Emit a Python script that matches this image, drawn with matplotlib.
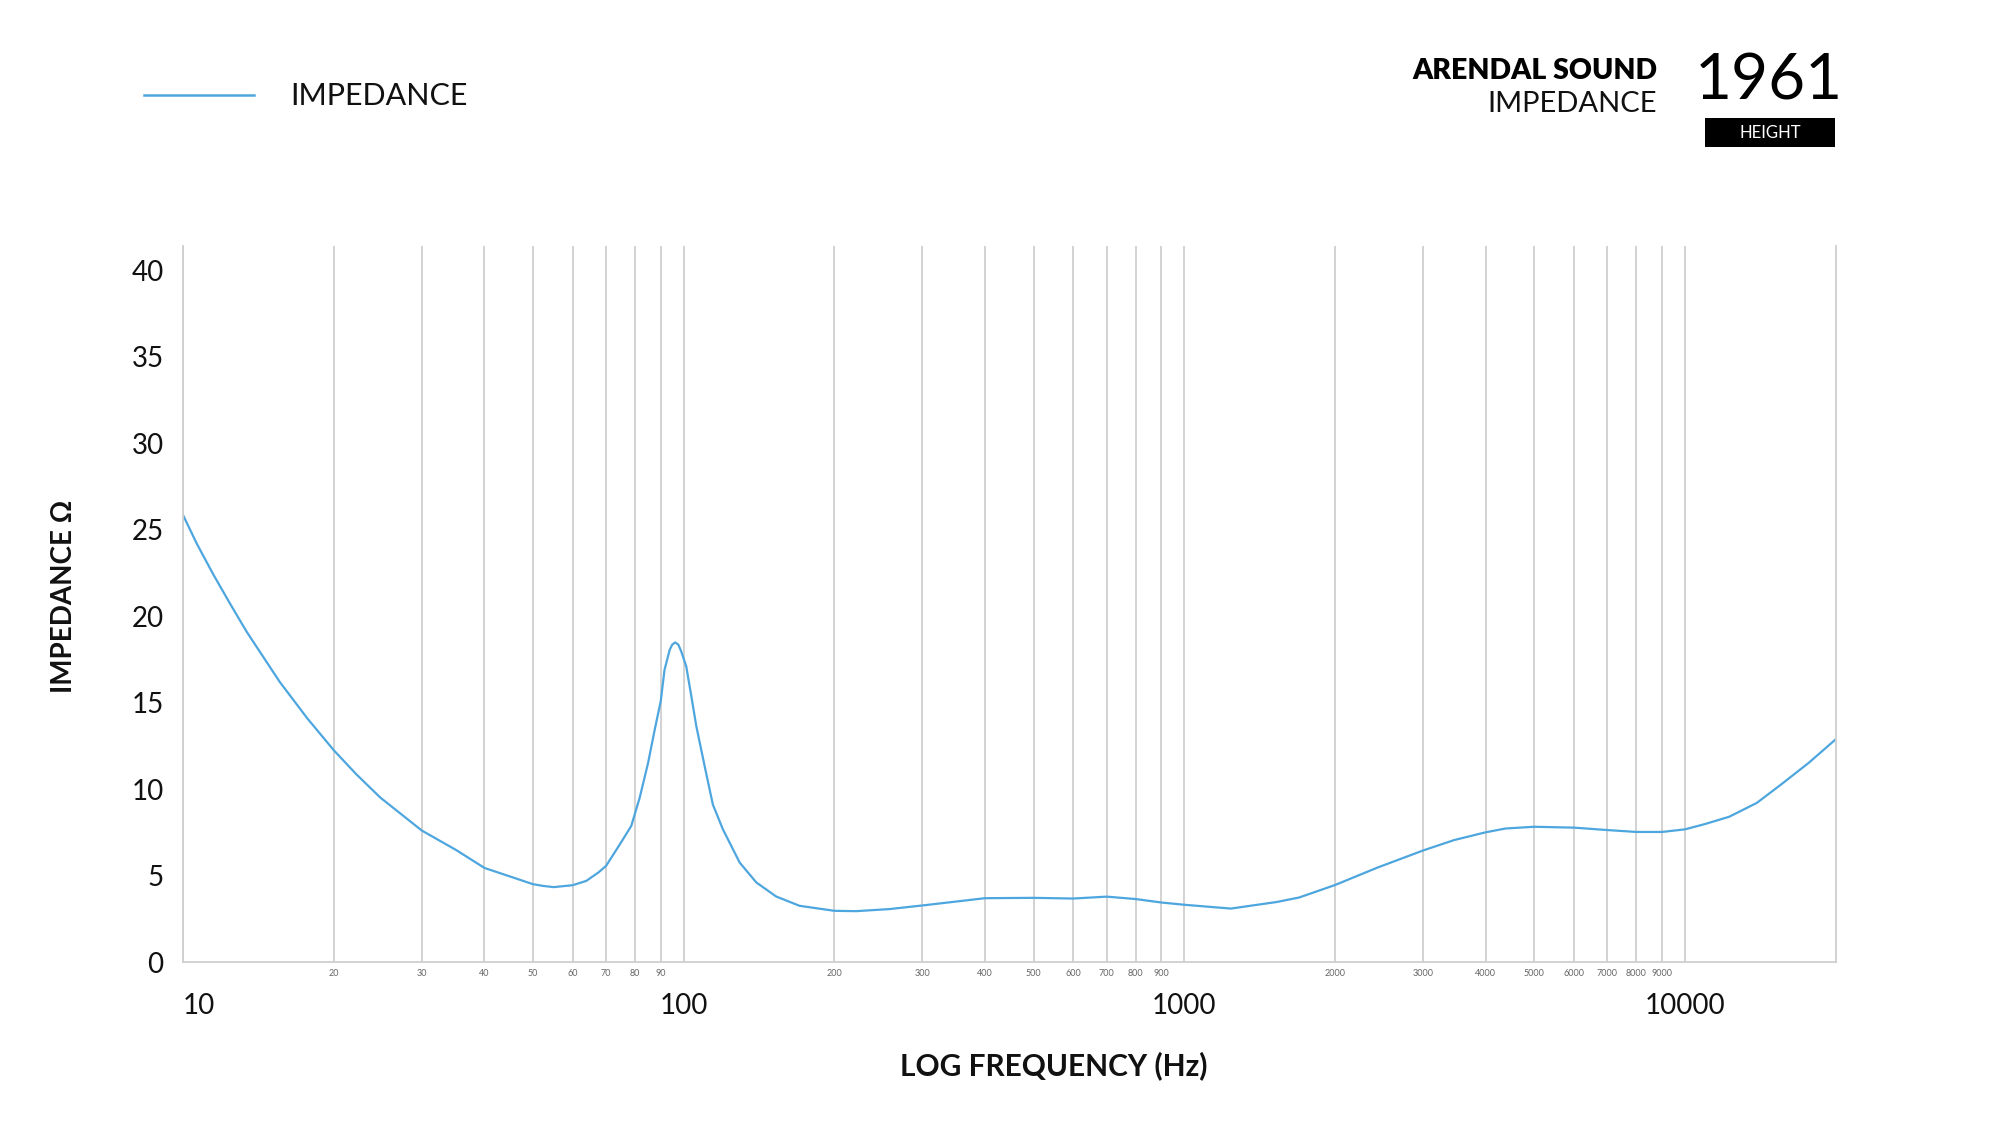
import matplotlib
matplotlib.use("Agg")
import matplotlib.pyplot as plt
from matplotlib.patches import Rectangle

# impedance curve (Hz, ohm)
freq = [10, 10.65, 11.5, 12.4, 13.4, 15.6, 17.7, 20, 22.2, 24.8, 30, 35.1, 40,
        45.6, 50, 52.4, 55, 60, 63.9, 67.6, 70, 74.6, 78.6, 81.7, 84.9, 87.5,
        90, 91.6, 93.8, 94.9, 96.2, 97.6, 98.9, 101.2, 103.6, 106, 110.2,
        114.4, 119.8, 129.4, 139.7, 153, 170.4, 200, 221, 257.6, 300, 400,
        500, 600, 700, 800, 900, 1000, 1239, 1530, 1696, 2000, 2427, 3000,
        3459, 4000, 4385, 5000, 6000, 7000, 8000, 9000, 10000, 10977, 12263,
        13921, 15543, 17645, 20000]
impedance = [25.85, 24.2, 22.4, 20.75, 19.1, 16.2, 14.1, 12.25, 10.85, 9.5,
             7.6, 6.48, 5.44, 4.89, 4.5, 4.4, 4.33, 4.44, 4.69, 5.18, 5.56,
             6.81, 7.87, 9.5, 11.5, 13.4, 15.08, 16.9, 18.06, 18.35, 18.48,
             18.35, 17.96, 17.1, 15.37, 13.64, 11.3, 9.1, 7.67, 5.75, 4.6,
             3.79, 3.25, 2.96, 2.94, 3.06, 3.27, 3.69, 3.71, 3.67, 3.78, 3.64,
             3.44, 3.31, 3.09, 3.47, 3.73, 4.45, 5.45, 6.45, 7.05, 7.5, 7.72,
             7.82, 7.77, 7.63, 7.52, 7.52, 7.67, 7.98, 8.4, 9.2, 10.25, 11.5,
             12.87]

major_freqs = [10, 100, 1000, 10000]
minor_freqs = [20, 30, 40, 50, 60, 70, 80, 90,
               200, 300, 400, 500, 600, 700, 800, 900,
               2000, 3000, 4000, 5000, 6000, 7000, 8000, 9000]
y_ticks = [0, 5, 10, 15, 20, 25, 30, 35, 40]

LINE = "#4ea6df"
GRID = "#cfcfcf"
TEXT = "#111111"

plt.rcParams['font.family'] = ['Lato', 'DejaVu Sans']

fig = plt.figure(figsize=(20, 11.27), dpi=100)
ax = fig.add_axes([0.0915, 0.1464, 0.8263, 0.6353])

ax.plot(freq, impedance, color=LINE, lw=1.6, solid_joinstyle='round')

ax.set_xscale('log')
ax.set_xlim(10, 20000)
ax.set_ylim(0, 41.4)

ax.set_xticks(major_freqs)
ax.set_xticklabels([str(f) for f in major_freqs])
ax.set_xticks(minor_freqs, minor=True)
ax.set_xticklabels([str(f) for f in minor_freqs], minor=True)
ax.tick_params(axis='x', which='major', length=0, pad=22, labelsize=20,
               labelcolor=TEXT)
ax.tick_params(axis='x', which='minor', length=0, pad=5, labelsize=6.5,
               labelcolor='#666666')
ax.get_xticklabels()[0].set_ha('left')

ax.set_yticks(y_ticks)
ax.tick_params(axis='y', length=0, pad=14, labelsize=20, labelcolor=TEXT)

ax.grid(True, axis='x', which='both', color=GRID, lw=1.3)
ax.grid(False, axis='y')

for side in ['left', 'bottom', 'right']:
    ax.spines[side].set_color(GRID)
    ax.spines[side].set_linewidth(1.3)
ax.spines['top'].set_visible(False)

fig.text(64 / 2000, 1 - 596 / 1127, "IMPEDANCE Ω", rotation=90, fontsize=20,
         fontweight='bold', ha='center', va='center', color=TEXT)
fig.text(1054 / 2000, 1 - 1066 / 1127, "LOG FREQUENCY (Hz)", fontsize=21.5,
         fontweight='bold', ha='center', va='center', color=TEXT)

# legend
fig.lines.append(plt.Line2D([144 / 2000, 254 / 2000], [1 - 95 / 1127] * 2,
                            color=LINE, lw=1.8, transform=fig.transFigure))
fig.text(290 / 2000, 1 - 96 / 1127, "IMPEDANCE", fontsize=22,
         ha='left', va='center', color=TEXT)

# header block
fig.text(1657 / 2000, 1 - 71 / 1127, "ARENDAL SOUND", fontsize=20.5,
         fontweight='heavy', ha='right', va='center', color='black')
fig.text(1657 / 2000, 1 - 104 / 1127, "IMPEDANCE", fontsize=21,
         ha='right', va='center', color=TEXT)
fig.text(1769 / 2000, 1 - 82 / 1127, "1961", fontsize=46,
         ha='center', va='center', color='black')
fig.patches.append(Rectangle((1705 / 2000, 1 - 147 / 1127), 130 / 2000,
                             29 / 1127, transform=fig.transFigure,
                             facecolor='black', edgecolor='none'))
fig.text(1770 / 2000, 1 - 133 / 1127, "HEIGHT", fontsize=12, color='white',
         ha='center', va='center')

fig.savefig("out.png", dpi=100, facecolor='white')
